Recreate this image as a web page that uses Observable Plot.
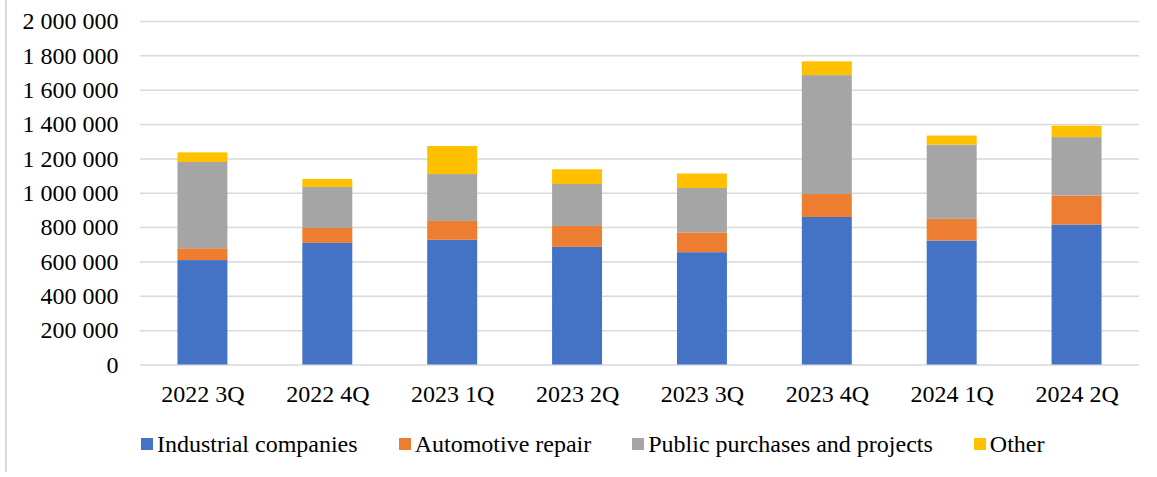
<!DOCTYPE html>
<html>
<head>
<meta charset="utf-8">
<script src="https://cdn.jsdelivr.net/npm/d3@7"></script>
<script src="https://cdn.jsdelivr.net/npm/@observablehq/plot@0.6"></script>
<style>
  html, body { margin: 0; padding: 0; background: #fff; }
  #wrap { position: relative; width: 1157px; height: 477px; overflow: hidden; }
  #border { position: absolute; left: 5px; top: 0; width: 2px; height: 472px; background: #d9d9d9; }
  #chart { position: absolute; left: 0; top: 0; }
  #legend { position: absolute; left: 141px; top: 432px; display: flex; gap: 41px; align-items: center;
            font-family: 'Liberation Serif', 'Times New Roman', serif; font-size: 24px; line-height: 24px; color: #000; white-space: nowrap; }
  .item { display: flex; align-items: center; }
  .sw { display: inline-block; width: 12px; height: 12px; margin-right: 4px; }
</style>
</head>
<body>
<div id="wrap">
  <div id="border"></div>
  <div id="chart"></div>
  <div id="legend"></div>
</div>
<script>
const quarters = ["2022 3Q", "2022 4Q", "2023 1Q", "2023 2Q", "2023 3Q", "2023 4Q", "2024 1Q", "2024 2Q"];
const industrial = [608000, 708000, 726000, 685000, 654000, 859000, 722000, 815000];
const automotive = [69000, 87000, 110000, 122000, 115000, 134000, 126000, 169000];
const publicPurchases = [502000, 239000, 273000, 244000, 259000, 692000, 432000, 340000];
const other = [56000, 46000, 163000, 86000, 84000, 80000, 53000, 67000];
const seriesNames = ["Industrial companies", "Automotive repair", "Public purchases and projects", "Other"];
const seriesColors = ["#4472C4", "#ED7D31", "#A5A5A5", "#FFC000"];
const yTicks = [0, 200000, 400000, 600000, 800000, 1000000, 1200000, 1400000, 1600000, 1800000, 2000000];

const seriesValues = [industrial, automotive, publicPurchases, other];
const data = [];
seriesNames.forEach((s, i) => {
  quarters.forEach((q, j) => data.push({quarter: q, series: s, value: seriesValues[i][j]}));
});

const fmt = d3.formatLocale({decimal: ",", thousands: " ", grouping: [3], currency: ["", ""]}).format(",d");

const chart = Plot.plot({
  width: 1157,
  height: 410,
  marginLeft: 140,
  marginRight: 18,
  marginTop: 21,
  marginBottom: 45.5,
  style: {fontFamily: "'Liberation Serif', 'Times New Roman', serif", fontSize: "24px", color: "#000", background: "transparent"},
  x: {domain: quarters, paddingInner: 0.6, paddingOuter: 0.3, round: false},
  y: {domain: [0, 2000000]},
  color: {domain: seriesNames, range: seriesColors},
  marks: [
    Plot.ruleY(yTicks, {stroke: "#d9d9d9", strokeWidth: 1.5}),
    Plot.barY(data, {x: "quarter", y: "value", fill: "series"}),
    Plot.axisY({ticks: yTicks, tickSize: 0, tickPadding: 22, tickFormat: fmt, label: null, fontSize: 24}),
    Plot.axisX({tickSize: 0, tickPadding: 20, label: null, fontSize: 24})
  ]
});
document.getElementById("chart").appendChild(chart);

const legend = document.getElementById("legend");
seriesNames.forEach((s, i) => {
  const item = document.createElement("div");
  item.className = "item";
  const sw = document.createElement("span");
  sw.className = "sw";
  sw.style.background = seriesColors[i];
  const t = document.createElement("span");
  t.textContent = s;
  item.appendChild(sw);
  item.appendChild(t);
  legend.appendChild(item);
});
</script>
</body>
</html>
